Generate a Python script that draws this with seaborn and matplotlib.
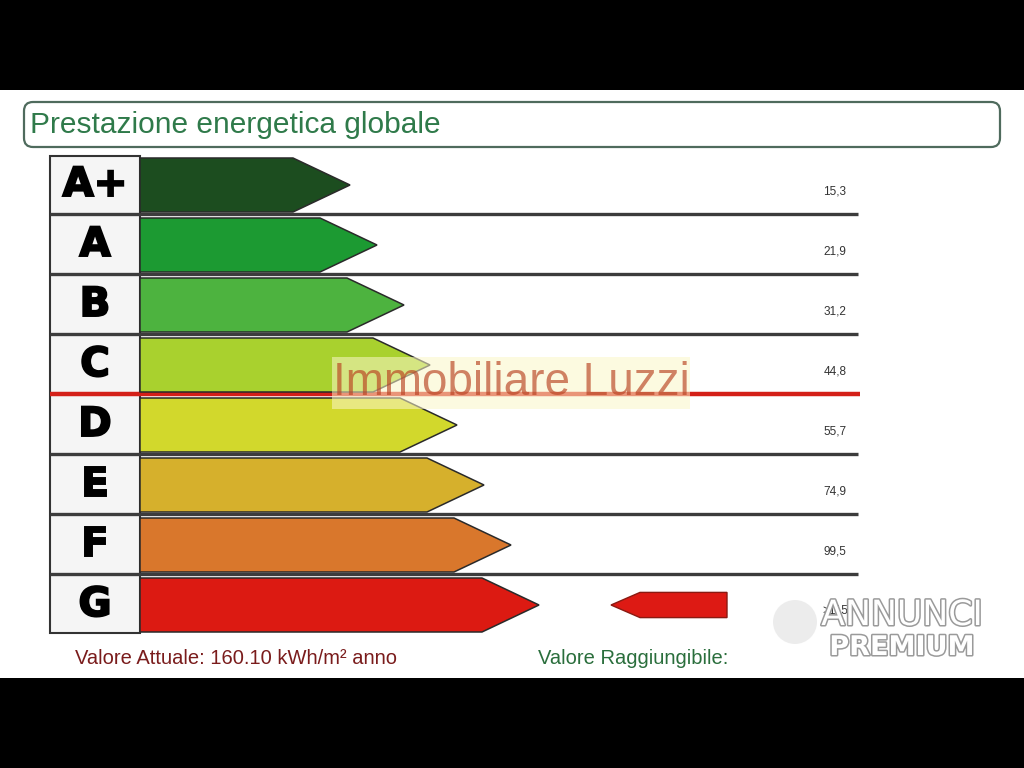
import matplotlib
matplotlib.use("Agg")
import matplotlib.pyplot as plt
import matplotlib.patheffects as pe
from matplotlib.patches import Rectangle, Polygon, FancyBboxPatch, Circle
import seaborn as sns
import pandas as pd

# ---- data ----
classes = ["A+", "A", "B", "C", "D", "E", "F", "G"]
arrow_tip = [350, 377, 404, 430, 457, 484, 511, 539]   # arrow length scale (tip position)
thresholds = ["15,3", "21,9", "31,2", "44,8", "55,7", "74,9", "99,5", ">115"]
colors = ["#1c4d1f", "#1c9a32", "#4db33f", "#a9d12e", "#d2d82c",
          "#d6b02c", "#d9772c", "#dc1a12"]
title = "Prestazione energetica globale"
current_text = "Valore Attuale: 160.10 kWh/m² anno"
target_text = "Valore Raggiungibile:"
watermark = "Immobiliare Luzzi"

BAR_START = 140
TIP_LEN = 57

sns.set_theme(style="white")
plt.rcParams["font.family"] = ["Liberation Sans", "DejaVu Sans"]

fig = plt.figure(figsize=(10.24, 7.68), dpi=100)
fig.patch.set_facecolor("black")

# background axes in pixel coords
bg = fig.add_axes([0, 0, 1, 1], zorder=0)
bg.set_xlim(0, 1024); bg.set_ylim(768, 0); bg.axis("off")
bg.add_patch(Rectangle((0, 90), 1024, 588, facecolor="white", edgecolor="none"))

# title box
bg.add_patch(FancyBboxPatch((24, 102), 976, 45,
                            boxstyle="round,pad=0,rounding_size=9",
                            facecolor="white", edgecolor="#4f6b5d", lw=1.6))
bg.text(30, 125, title, fontsize=21.5, color="#2f7a4a", va="center", ha="left")

# letter column
bg.add_patch(Rectangle((50, 156), 90, 477, facecolor="#f5f5f5",
                       edgecolor="#333333", lw=1.5))

# separator lines
for i in range(len(classes) - 1):
    y = 185 + 60 * i + 29
    if classes[i] == "C":
        bg.plot([50, 860], [y, y], color="#d42018", lw=3.2, solid_capstyle="butt")
    else:
        bg.plot([50, 858], [y, y], color="#3c3c3c", lw=2.4, solid_capstyle="butt")

# bottom texts
bg.text(75, 659, current_text, fontsize=14.5, color="#7a1c1c", va="center", ha="left")
bg.text(538, 659, target_text, fontsize=14.5, color="#2a6e3c", va="center", ha="left")

# ---- bars axes ----
ax = fig.add_axes([0, (768 - 635) / 768, 1, 480 / 768], zorder=1)
ax.patch.set_alpha(0)
df = pd.DataFrame({"classe": classes,
                   "body": [t - TIP_LEN - BAR_START for t in arrow_tip],
                   "tip": arrow_tip})
sns.barplot(data=df, x="body", y="classe", hue="classe", palette=colors,
            orient="h", left=BAR_START, width=0.9, linewidth=0,
            legend=False, ax=ax)
ax.set_xlim(0, 1024)
ax.set_ylim(7.5, -0.5)
ax.axis("off")

for patch, tip, col in zip(ax.patches, df["tip"], colors):
    x0 = patch.get_x()
    x1 = x0 + patch.get_width()
    y0 = patch.get_y()
    h = patch.get_height()
    poly = Polygon([(x0, y0), (x1, y0), (tip, y0 + h / 2), (x1, y0 + h), (x0, y0 + h)],
                   closed=True, facecolor=col, edgecolor="#2a2a2a", lw=1.1, zorder=3)
    ax.add_patch(poly)

heavy = [pe.withStroke(linewidth=1.4, foreground="black", joinstyle="miter")]
for i, (cls, thr) in enumerate(zip(classes, thresholds)):
    ax.text(95, i, cls, fontsize=29, fontweight="heavy",
            family="DejaVu Sans", color="black", ha="center", va="center",
            zorder=4, path_effects=heavy)
    ax.text(835, i + 0.1, thr, fontsize=8.5, color="#333333",
            ha="center", va="center", zorder=4)

# target arrow (pointing left) on G row
gy = 7
ax.add_patch(Polygon([(727, gy - 0.21), (640, gy - 0.21), (611, gy),
                      (640, gy + 0.21), (727, gy + 0.21)], closed=True,
                     facecolor="#dd1a14", edgecolor="#8a1a12", lw=1.0, zorder=3))

# ---- overlay: watermark & logo ----
top = fig.add_axes([0, 0, 1, 1], zorder=3)
top.set_xlim(0, 1024); top.set_ylim(768, 0); top.axis("off")
top.patch.set_alpha(0)
top.add_patch(Rectangle((332, 357), 358, 52, facecolor="#fbf6c8", alpha=0.55,
                        edgecolor="none"))
top.text(511, 383, watermark, fontsize=33, color="#b8401f", alpha=0.65,
         ha="center", va="center")

top.add_patch(Circle((795, 622), 22, facecolor="#e8e8e8", edgecolor="none", alpha=0.8))
stroke = [pe.withStroke(linewidth=2.2, foreground="#9a9a9a")]
top.text(902, 615, "ANNUNCI", fontsize=25, color="white", ha="center", va="center",
         family="DejaVu Sans", path_effects=stroke)
top.text(902, 648, "PREMIUM", fontsize=19.5, fontweight="bold", color="white",
         ha="center", va="center", family="DejaVu Sans", path_effects=stroke)

fig.savefig("out.png", dpi=100, facecolor=fig.get_facecolor())
